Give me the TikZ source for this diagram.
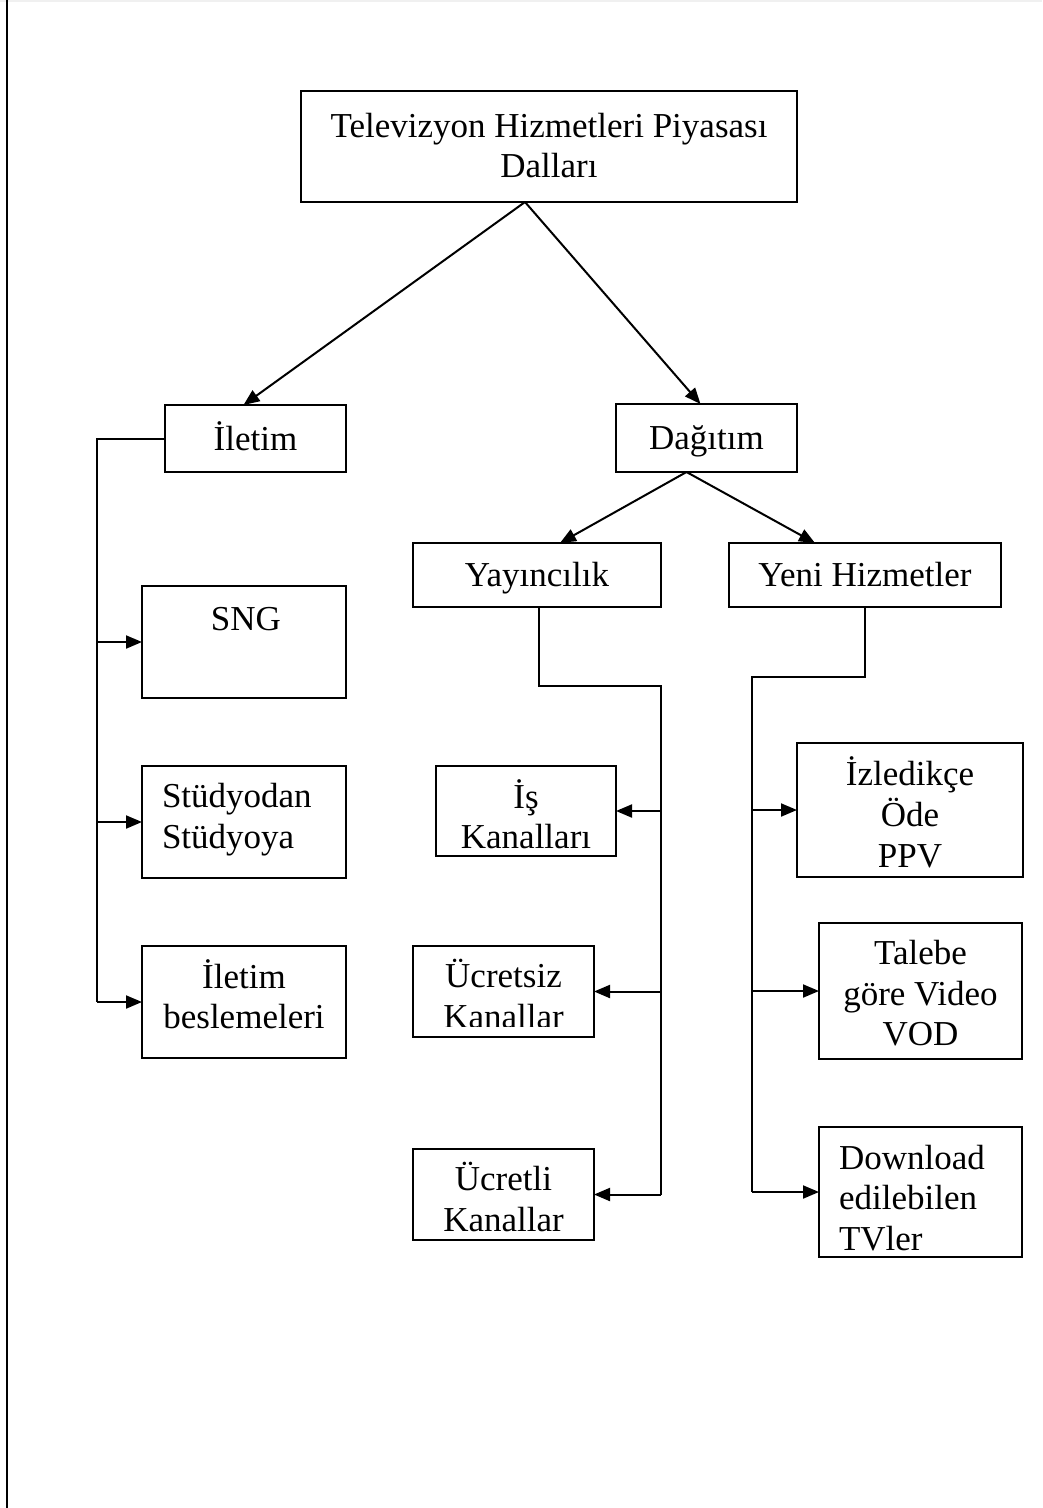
\documentclass[tikz,border=0pt]{standalone}
\usepackage{fontspec}
\setmainfont{Liberation Serif}
\usetikzlibrary{arrows.meta,calc}
\begin{document}
\begin{tikzpicture}[x=1pt,y=-1pt,
  box/.style={draw, line width=2.1pt, inner sep=0pt, outer sep=0pt, anchor=north west},
  lbl/.style={font=\fontsize{35}{40.5}\selectfont, inner sep=0pt, outer sep=0pt},
  link/.style={line width=2pt},
  arr/.style={link, -{Triangle[length=16pt,width=13pt]}}]

% page and frame
\useasboundingbox (0,0) rectangle (1042,1508);
\draw[gray!12, line width=2pt] (0,1) -- (1042,1);
\draw[line width=2.8pt] (7,0) -- (7,1508);

% boxes: top-left corner, width and height
\node[box, minimum width=496pt, minimum height=111pt] (top)  at (301,91)  {};
\node[box, minimum width=181pt, minimum height=67pt]  (ilet) at (165,405) {};
\node[box, minimum width=181pt, minimum height=68pt]  (dag)  at (616,404) {};
\node[box, minimum width=248pt, minimum height=64pt]  (yay)  at (413,543) {};
\node[box, minimum width=272pt, minimum height=64pt]  (yeni) at (729,543) {};
\node[box, minimum width=204pt, minimum height=112pt] (sng)  at (142,586) {};
\node[box, minimum width=204pt, minimum height=112pt] (stud) at (142,766) {};
\node[box, minimum width=204pt, minimum height=112pt] (bes)  at (142,946) {};
\node[box, minimum width=180pt, minimum height=90pt]  (is)   at (436,766) {};
\node[box, minimum width=181pt, minimum height=91pt]  (ucz)  at (413,946) {};
\node[box, minimum width=181pt, minimum height=91pt]  (uct)  at (413,1149) {};
\node[box, minimum width=226pt, minimum height=134pt] (izl)  at (797,743) {};
\node[box, minimum width=203pt, minimum height=136pt] (tal)  at (819,923) {};
\node[box, minimum width=203pt, minimum height=130pt] (dwn)  at (819,1127) {};

% labels (first baseline = node top + strut height)
\node[lbl, align=center, anchor=north] (ttop) at ($(top.north)+(0,18)$)
  {\strut Televizyon Hizmetleri Piyasası\\\strut Dalları};
\node[lbl, anchor=base] (tilet) at ($(ilet.center)+(0,11.5)$) {İletim};
\node[lbl, anchor=base] (tdag)  at ($(dag.center)+(0,11.5)$) {Dağıtım};
\node[lbl, anchor=base] (tyay)  at ($(yay.center)+(0,11.5)$) {Yayıncılık};
\node[lbl, anchor=base] (tyeni) at ($(yeni.center)+(0,11.5)$) {Yeni Hizmetler};
\node[lbl, anchor=base] (tsng)  at ($(sng.north)+(2,44)$) {SNG};
\node[lbl, align=left, anchor=north west] (tstud) at ($(stud.north west)+(20,13.5)$)
  {\strut Stüdyodan\\\strut Stüdyoya};
\node[lbl, align=center, anchor=north] (tbes) at ($(bes.north)+(0,13.5)$)
  {\strut İletim\\\strut beslemeleri};
\node[lbl, align=center, anchor=north] (tis) at ($(is.north)+(0,13.5)$)
  {\strut İş\\\strut Kanalları};
\begin{scope}
  \clip (413,946) rectangle (594,1026);
  \node[lbl, align=center, anchor=north] (tucz) at ($(ucz.north)+(0,13.5)$)
    {\strut Ücretsiz\\\strut Kanallar};
\end{scope}
\node[lbl, align=center, anchor=north] (tuct) at ($(uct.north)+(0,13.5)$)
  {\strut Ücretli\\\strut Kanallar};
\node[lbl, align=center, anchor=north] (tizl) at ($(izl.north)+(0,13.5)$)
  {\strut İzledikçe\\\strut Öde\\\strut PPV};
\node[lbl, align=center, anchor=north] (ttal) at ($(tal.north)+(0,13.5)$)
  {\strut Talebe\\\strut göre Video\\\strut VOD};
\node[lbl, align=left, anchor=north west] (tdwn) at ($(dwn.north west)+(20,14)$)
  {\strut Download\\\strut edilebilen\\\strut TVler};

% connector anchor points
\coordinate (topfoot) at ($(top.south)+(-24,0)$);
\coordinate (dagfoot) at ($(dag.south)+(-20,0)$);
\coordinate (lx) at (97,0);
\coordinate (yx) at (661,0);
\coordinate (nx) at (752,0);
\coordinate (yaybend) at (539,686);
\coordinate (yenibend) at (865,677);

% upper tree
\draw[arr] (topfoot) -- ($(ilet.north)+(-12,0)$);
\draw[arr] (topfoot) -- ($(dag.north)+(-6,0)$);
\draw[arr] (dagfoot) -- ($(yay.north)+(23,0)$);
\draw[arr] (dagfoot) -- ($(yeni.north)+(-50,0)$);

% İletim branch
\draw[link] (ilet.west) -- (ilet.west -| lx) -- (bes.west -| lx);
\draw[arr] (sng.west -| lx)  -- (sng.west);
\draw[arr] (stud.west -| lx) -- (stud.west);
\draw[arr] (bes.west -| lx)  -- (bes.west);

% Yayıncılık branch
\draw[link] (yay.south -| yaybend) -- (yaybend) -- (yaybend -| yx) -- (uct.east -| yx);
\draw[arr] (is.east -| yx)  -- (is.east);
\draw[arr] (ucz.east -| yx) -- (ucz.east);
\draw[arr] (uct.east -| yx) -- (uct.east);

% Yeni Hizmetler branch
\draw[link] (yeni.south -| yenibend) -- (yenibend) -- (yenibend -| nx) -- (dwn.west -| nx);
\draw[arr] (izl.west -| nx) -- (izl.west);
\draw[arr] (tal.west -| nx) -- (tal.west);
\draw[arr] (dwn.west -| nx) -- (dwn.west);
\end{tikzpicture}
\end{document}
